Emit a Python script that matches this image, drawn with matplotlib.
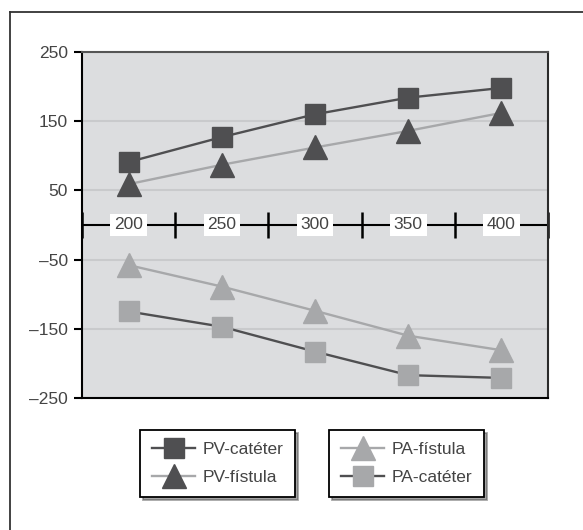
import matplotlib.pyplot as plt
from matplotlib.lines import Line2D

# data
categories = ["200", "250", "300", "350", "400"]
pv_cateter = [91, 127, 160, 184, 198]
pv_fistula = [59, 87, 112, 136, 162]
pa_fistula = [-58, -89, -124, -160, -181]
pa_cateter = [-125, -147, -183, -217, -221]
y_ticks = [-250, -150, -50, 50, 150, 250]

dark = "#4f4f51"
light = "#a7a8aa"
txt = "#444444"

plt.rcParams['font.family'] = ['Liberation Sans', 'DejaVu Sans']

fig = plt.figure(figsize=(5.83, 5.30), dpi=100)
ax = fig.add_axes([0.1407, 0.2491, 0.7993, 0.6528])
ax.set_facecolor("#dcdddf")

x = [i + 0.5 for i in range(len(categories))]

ax.plot(x, pv_fistula, color=light, lw=1.7, marker="^", ms=17,
        mfc=dark, mec=dark, label="PV-fístula", zorder=3)
ax.plot(x, pv_cateter, color=dark, lw=1.7, marker="s", ms=14.5,
        mfc=dark, mec=dark, label="PV-catéter", zorder=4)
ax.plot(x, pa_cateter, color=dark, lw=1.7, marker="s", ms=14.5,
        mfc=light, mec=light, label="PA-catéter", zorder=3)
ax.plot(x, pa_fistula, color=light, lw=1.7, marker="^", ms=17,
        mfc=light, mec=light, label="PA-fístula", zorder=4)

ax.set_xlim(0, len(categories))
ax.set_ylim(-250, 250)
ax.set_yticks(y_ticks)
ax.set_yticklabels([str(v).replace("-", "\u2013") for v in y_ticks])
ax.set_xticks([])
ax.tick_params(axis="y", direction="out", length=6, width=1.5,
               colors="black", labelcolor=txt, labelsize=12.5, pad=4)
ax.yaxis.grid(True, color="#c9cacc", lw=1.5)
ax.set_axisbelow(True)

for side, c in [("left", "black"), ("bottom", "black"),
                ("top", "#555555"), ("right", "#2a2a2a")]:
    ax.spines[side].set_color(c)
    ax.spines[side].set_linewidth(1.5)

# category axis across zero
ax.axhline(0, color="black", lw=1.5, zorder=2)
ax.vlines(range(len(categories) + 1), -19, 19, color="black", lw=1.8,
          zorder=2, clip_on=False)
for xi, lab in zip(x, categories):
    ax.text(xi, 0, lab, ha="center", va="center", fontsize=12.5, color=txt,
            zorder=5, bbox=dict(boxstyle="square,pad=0.22", fc="white",
                                ec="none"))

h = {l.get_label(): l for l in ax.get_lines()}
leg_kw = dict(loc="upper left", fontsize=12.5, frameon=True, fancybox=False,
              shadow=True, edgecolor="black", handlelength=2.5,
              handletextpad=0.4, borderpad=0.7, labelspacing=0.75,
              borderaxespad=0)
leg1 = fig.legend([h["PV-catéter"], h["PV-fístula"]],
                  ["PV-catéter", "PV-fístula"],
                  bbox_to_anchor=(0.240, 0.189), **leg_kw)
leg2 = fig.legend([h["PA-fístula"], h["PA-catéter"]],
                  ["PA-fístula", "PA-catéter"],
                  bbox_to_anchor=(0.564, 0.189), **leg_kw)
for leg in (leg1, leg2):
    leg.get_frame().set_linewidth(1.3)
    for t in leg.get_texts():
        t.set_color(txt)

# outer frame (top and left edges)
fig.add_artist(Line2D([10 / 583, 1], [1 - 12 / 530, 1 - 12 / 530],
                      color="#333333", lw=1.3, transform=fig.transFigure))
fig.add_artist(Line2D([10 / 583, 10 / 583], [0, 1 - 12 / 530],
                      color="#333333", lw=1.3, transform=fig.transFigure))

fig.savefig("out.png", dpi=100)
